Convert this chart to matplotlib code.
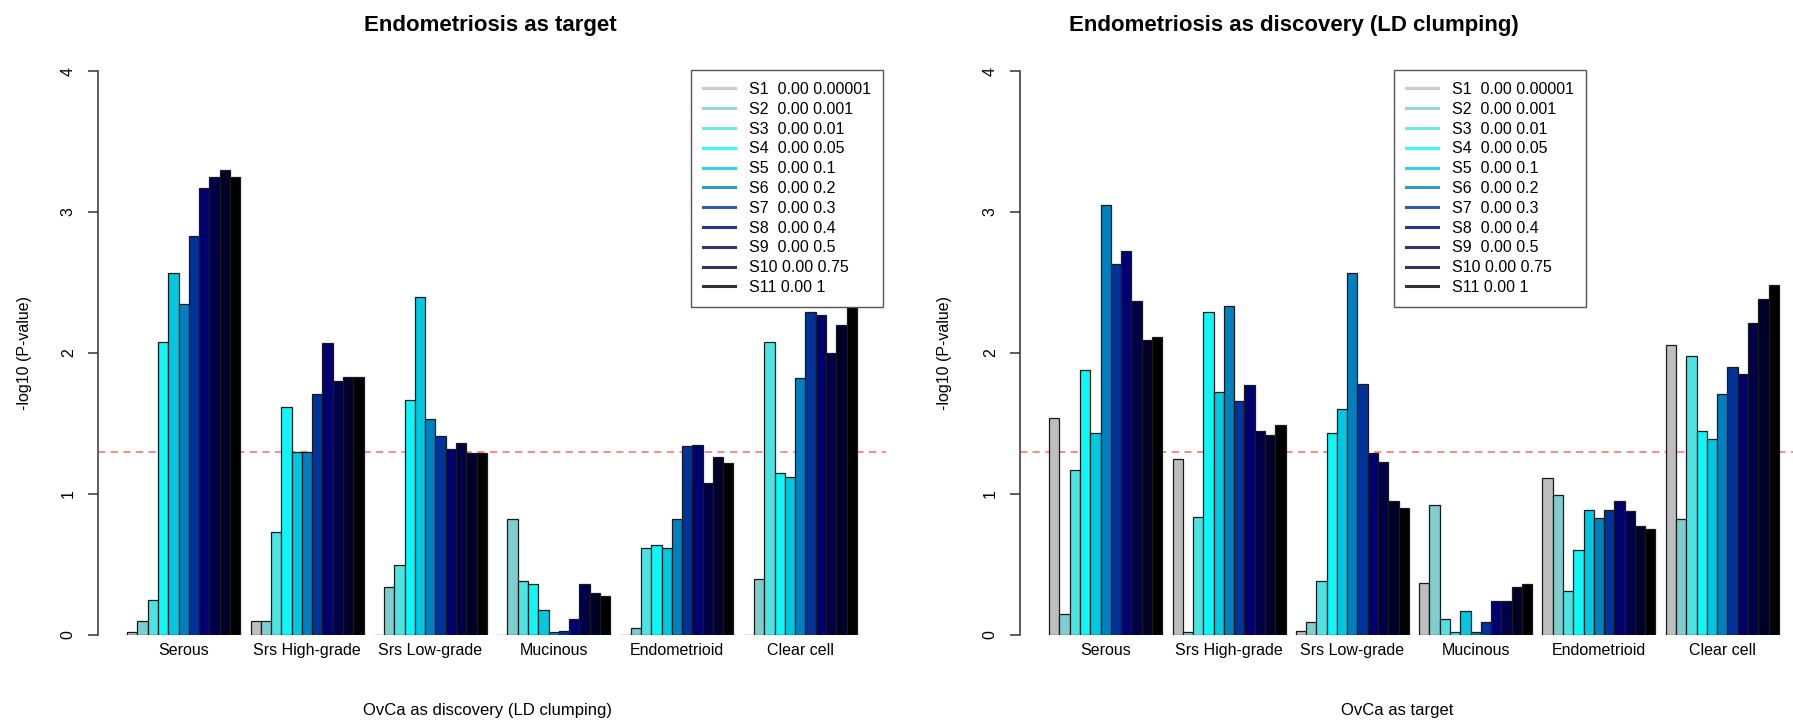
import matplotlib
matplotlib.use("Agg")
import matplotlib.pyplot as plt
from matplotlib.lines import Line2D
import numpy as np

plt.rcParams['font.family'] = ['Liberation Sans', 'DejaVu Sans']

# ---------------- data ----------------
groups = ["Serous", "Srs High-grade", "Srs Low-grade", "Mucinous", "Endometrioid", "Clear cell"]
series = ["S1", "S2", "S3", "S4", "S5", "S6", "S7", "S8", "S9", "S10", "S11"]
mid_vals = ["0.00"] * 11
thresholds = ["0.00001", "0.001", "0.01", "0.05", "0.1", "0.2", "0.3", "0.4", "0.5", "0.75", "1"]
colors = ['#BEBEBE', '#7FCDCD', '#4DE3E3', '#10F5F5', '#00C8E0', '#0080BF',
          '#003399', '#000070', '#000048', '#000028', '#000000']

# Left panel: Endometriosis as target (rows = groups, cols = S1..S11)
target_serous = [0.02, 0.10, 0.25, 2.08, 2.57, 2.35, 2.83, 3.17, 3.25, 3.30, 3.25]
target_high = [0.10, 0.10, 0.73, 1.62, 1.30, 1.30, 1.71, 2.07, 1.80, 1.83, 1.83]
target_low = [0.00, 0.34, 0.50, 1.67, 2.40, 1.53, 1.41, 1.32, 1.36, 1.29, 1.29]
target_muc = [0.00, 0.82, 0.38, 0.36, 0.18, 0.02, 0.03, 0.11, 0.36, 0.30, 0.28]
target_endo = [0.00, 0.05, 0.62, 0.64, 0.62, 0.82, 1.34, 1.35, 1.08, 1.26, 1.22]
target_clear = [0.00, 0.40, 2.08, 1.15, 1.12, 1.82, 2.29, 2.27, 2.00, 2.20, 2.45]

# Right panel: Endometriosis as discovery (LD clumping)
disc_serous = [1.54, 0.15, 1.17, 1.88, 1.43, 3.05, 2.63, 2.72, 2.37, 2.09, 2.11]
disc_high = [1.25, 0.02, 0.84, 2.29, 1.72, 2.33, 1.66, 1.77, 1.45, 1.42, 1.49]
disc_low = [0.03, 0.09, 0.38, 1.43, 1.60, 2.57, 1.78, 1.29, 1.23, 0.95, 0.90]
disc_muc = [0.37, 0.92, 0.11, 0.02, 0.17, 0.02, 0.09, 0.24, 0.24, 0.34, 0.36]
disc_endo = [1.11, 0.99, 0.31, 0.60, 0.89, 0.83, 0.89, 0.95, 0.88, 0.77, 0.75]
disc_clear = [2.06, 0.82, 1.98, 1.45, 1.39, 1.71, 1.90, 1.85, 2.21, 2.38, 2.48]

threshold_line = -np.log10(0.05)

# ---------------- layout ----------------
W, H = 1793, 723
fig = plt.figure(figsize=(W / 100, H / 100), dpi=100)


def px_ax(x0, y_top, w, h):
    return [x0 / W, 1 - (y_top + h) / H, w / W, h / H]


panels = [
    dict(data=[target_serous, target_high, target_low, target_muc, target_endo, target_clear],
         ax_x=98, title="Endometriosis as target", title_x=490,
         xlabel="OvCa as discovery (LD clumping)", xlabel_x=488, ylabel_x=25,
         leg_x=691),
    dict(data=[disc_serous, disc_high, disc_low, disc_muc, disc_endo, disc_clear],
         ax_x=1020, title="Endometriosis as discovery (LD clumping)", title_x=1294,
         xlabel="OvCa as target", xlabel_x=1397, ylabel_x=945,
         leg_x=1394),
]

n_s = len(series)
pitch = n_s + 1
lefts_all = [1 + pitch * g + s for g in range(len(groups)) for s in range(n_s)]
lo, hi = min(lefts_all), max(lefts_all) + 1
ext = 0.04 * (hi - lo)

labels = [f"{n:<3} {m} {t}" for n, m, t in zip(series, mid_vals, thresholds)]

for p in panels:
    ax = fig.add_axes(px_ax(p['ax_x'], 71, 788, 564))
    ax.set_xlim(lo - ext, hi + ext)
    ax.set_ylim(0, 4)
    ax.axhline(threshold_line, color='#FF8080', lw=1.3, ls=(0, (4, 3)), zorder=1)
    for g, vals in enumerate(p['data']):
        for s, v in enumerate(vals):
            ax.bar(1 + pitch * g + s, v, width=1, align='edge', color=colors[s],
                   edgecolor='#1a1a1a', linewidth=0.9, zorder=2)
    for side in ['top', 'right', 'bottom']:
        ax.spines[side].set_visible(False)
    ax.spines['left'].set_color('#333333')
    ax.spines['left'].set_linewidth(1.1)
    ax.set_yticks([0, 1, 2, 3, 4])
    ax.set_yticklabels(['0', '1', '2', '3', '4'], rotation=90, va='center')
    ax.tick_params(axis='y', length=7, width=1.1, color='#333333', pad=9, labelsize=11.5)
    centers = [1 + pitch * g + n_s / 2 for g in range(len(groups))]
    ax.set_xticks(centers)
    ax.set_xticklabels(groups)
    ax.tick_params(axis='x', length=0, pad=6, labelsize=11.5)

    handles = [Line2D([0], [0], color=c, lw=2.2, alpha=0.8) for c in colors]
    leg = fig.legend(handles, labels, loc='upper left',
                     bbox_to_anchor=(p['leg_x'] / W, 1 - 70 / H),
                     bbox_transform=fig.transFigure, fontsize=11.5,
                     frameon=True, fancybox=False, framealpha=1,
                     edgecolor='#555555', labelspacing=0.3, borderpad=0.75,
                     handlelength=2.0, handletextpad=0.9, borderaxespad=0)
    leg.get_frame().set_linewidth(1.0)
    leg.set_zorder(10)

    fig.text(p['title_x'] / W, 1 - 25 / H, p['title'], ha='center', va='center',
             fontsize=16, fontweight='bold')
    fig.text(p['xlabel_x'] / W, 1 - 711 / H, p['xlabel'], ha='center', va='center',
             fontsize=12)
    fig.text(p['ylabel_x'] / W, 1 - 353 / H, "-log10 (P-value)", ha='center', va='center',
             rotation=90, fontsize=11.5)

fig.savefig("out.png", dpi=100)
